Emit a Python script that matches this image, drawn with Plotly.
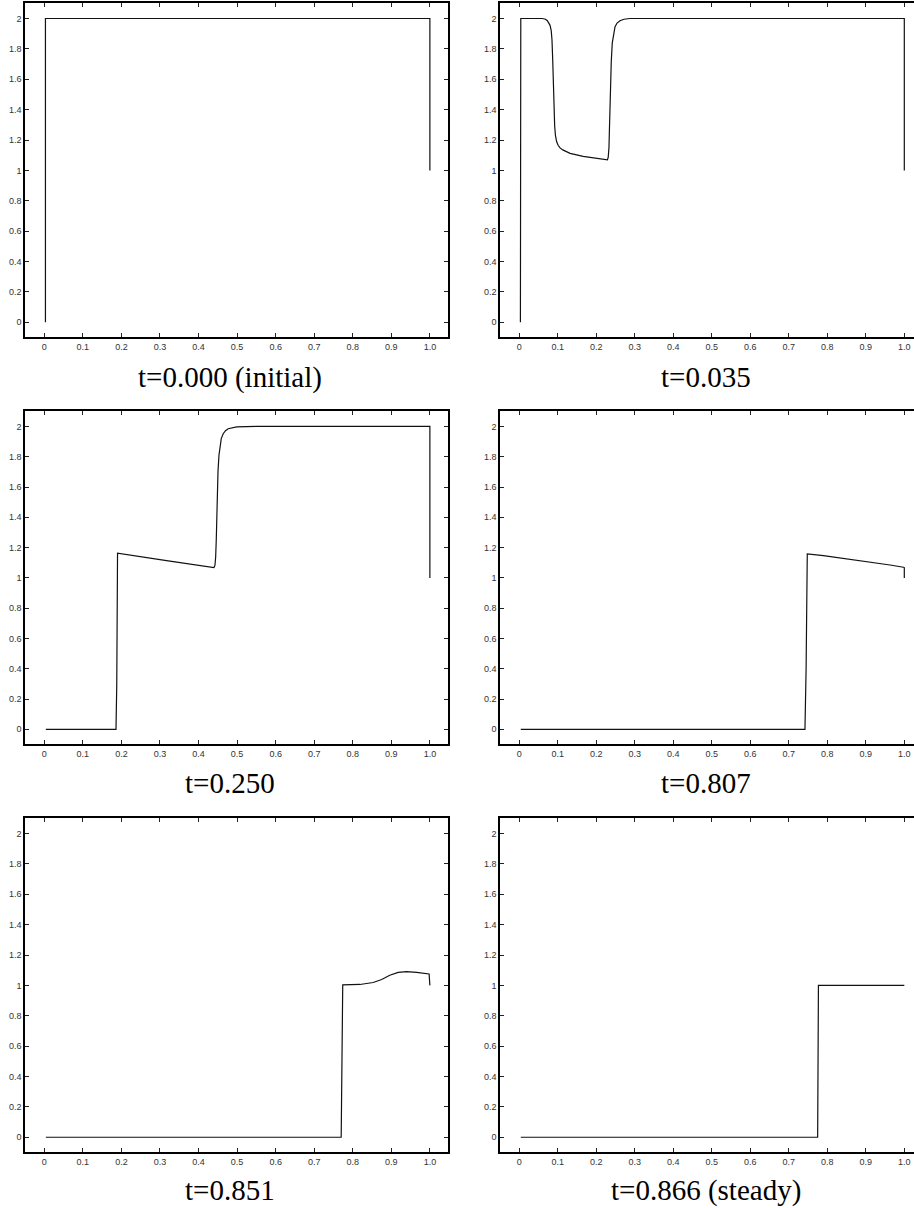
import plotly.graph_objects as go

# ---- data ----
captions = ["t=0.000 (initial)", "t=0.035", "t=0.250", "t=0.807", "t=0.851", "t=0.866 (steady)"]

x_t0 = [0.003, 0.003, 1.0, 1.0]
y_t0 = [0.0, 2.0, 2.0, 1.0]

x_t035 = [0.003, 0.004, 0.060, 0.068, 0.073, 0.077, 0.080, 0.083, 0.085, 0.087, 0.0884, 0.090,
          0.092, 0.094, 0.097, 0.101, 0.106, 0.113, 0.122, 0.132,
          0.166, 0.201, 0.220, 0.226, 0.229, 0.231, 0.233, 0.234, 0.2356, 0.237, 0.239, 0.2416,
          0.245, 0.2486, 0.254, 0.2616, 0.272, 0.2875, 1.0, 1.0]
y_t035 = [0.0, 2.0, 2.0, 1.995, 1.985, 1.97, 1.955, 1.92, 1.86, 1.72, 1.55, 1.40,
          1.29, 1.23, 1.19, 1.165, 1.148, 1.135, 1.122, 1.112,
          1.092, 1.079, 1.072, 1.068, 1.07, 1.085, 1.15, 1.25, 1.42, 1.58, 1.72, 1.84,
          1.91, 1.945, 1.97, 1.985, 1.995, 2.0, 2.0, 1.0]

x_t250 = [0.004, 0.186, 0.188, 0.190, 0.317, 0.436, 0.440, 0.4426, 0.4445, 0.446, 0.447,
          0.4486, 0.4505, 0.453, 0.4555, 0.459, 0.464, 0.470, 0.477, 0.488, 0.499, 0.55, 1.0, 1.0]
y_t250 = [0.0, 0.0, 0.3, 1.163, 1.114, 1.068, 1.068, 1.082, 1.14, 1.25, 1.36,
          1.53, 1.70, 1.81, 1.875, 1.92, 1.952, 1.972, 1.985, 1.993, 1.997, 2.0, 2.0, 1.0]

x_t807 = [0.004, 0.742, 0.745, 0.748, 0.79, 0.876, 0.963, 0.998, 1.0, 1.0]
y_t807 = [0.0, 0.0, 0.4, 1.158, 1.147, 1.118, 1.085, 1.070, 1.068, 1.0]

x_t851 = [0.004, 0.770, 0.772, 0.774, 0.8185, 0.853, 0.875, 0.896, 0.918, 0.9396, 0.9655, 0.998, 1.0]
y_t851 = [0.0, 0.0, 0.5, 1.003, 1.006, 1.019, 1.039, 1.067, 1.086, 1.09, 1.086, 1.075, 1.0]

x_t866 = [0.004, 0.775, 0.777, 1.0]
y_t866 = [0.0, 0.0, 1.0, 1.0]

x_ticks = [0, 0.1, 0.2, 0.3, 0.4, 0.5, 0.6, 0.7, 0.8, 0.9, 1.0]
x_tick_labels = ["0", "0.1", "0.2", "0.3", "0.4", "0.5", "0.6", "0.7", "0.8", "0.9", "1.0"]
y_ticks = [0, 0.2, 0.4, 0.6, 0.8, 1.0, 1.2, 1.4, 1.6, 1.8, 2.0]
y_tick_labels = ["0", "0.2", "0.4", "0.6", "0.8", "1", "1.2", "1.4", "1.6", "1.8", "2"]

series = [(x_t0, y_t0), (x_t035, y_t035), (x_t250, y_t250),
          (x_t807, y_t807), (x_t851, y_t851), (x_t866, y_t866)]

# ---- layout geometry (pixels) ----
W, H = 914, 1208
rows_px = [(3, 337), (411, 744), (818, 1152)]
cols_px = [(25, 448), (500, 914)]
x_ranges = [[-0.05, 1.047], [-0.05, 1.0252]]
y_range = [-0.097, 2.102]
caption_x = [230, 706]
caption_y = [377, 783, 1190]

fig = go.Figure()
layout = dict(width=W, height=H, margin=dict(l=0, r=0, t=0, b=0),
              paper_bgcolor="white", plot_bgcolor="white", showlegend=False)
annotations = []

tickfont = dict(family="Liberation Sans, Arial, sans-serif", size=9, color="#333333")

for i, (xs, ys) in enumerate(series):
    r, c = divmod(i, 2)
    n = i + 1
    xa = "x" if n == 1 else f"x{n}"
    ya = "y" if n == 1 else f"y{n}"
    fig.add_trace(go.Scatter(x=xs, y=ys, mode="lines", xaxis=xa, yaxis=ya,
                             line=dict(color="#111111", width=1.2), hoverinfo="skip"))
    top, bot = rows_px[r]
    left, right = cols_px[c]
    xkey = "xaxis" if n == 1 else f"xaxis{n}"
    ykey = "yaxis" if n == 1 else f"yaxis{n}"
    layout[xkey] = dict(domain=[left / W, right / W], anchor=ya, range=x_ranges[c],
                        tickvals=x_ticks, ticktext=x_tick_labels, ticks="inside", ticklen=4,
                        tickcolor="#222", tickwidth=1, showline=True, linecolor="black",
                        linewidth=1.6, mirror="ticks", showgrid=False, zeroline=False,
                        tickfont=tickfont, fixedrange=True)
    layout[ykey] = dict(domain=[1 - bot / H, 1 - top / H], anchor=xa, range=y_range,
                        tickvals=y_ticks, ticktext=y_tick_labels, ticks="inside", ticklen=4,
                        tickcolor="#222", tickwidth=1, showline=True, linecolor="black",
                        linewidth=1.6, mirror=("ticks" if c == 0 else False),
                        showgrid=False, zeroline=False, tickfont=tickfont, fixedrange=True)
    annotations.append(dict(text=captions[i], xref="paper", yref="paper",
                            x=caption_x[c] / W, y=1 - caption_y[r] / H,
                            xanchor="center", yanchor="middle", showarrow=False,
                            font=dict(family="Liberation Serif, Times New Roman, serif",
                                      size=29, color="black")))

layout["annotations"] = annotations
fig.update_layout(**layout)
fig.write_html("out.html", config={"displayModeBar": False},
               post_script="document.body.style.margin='0';document.body.style.overflow='hidden';")
